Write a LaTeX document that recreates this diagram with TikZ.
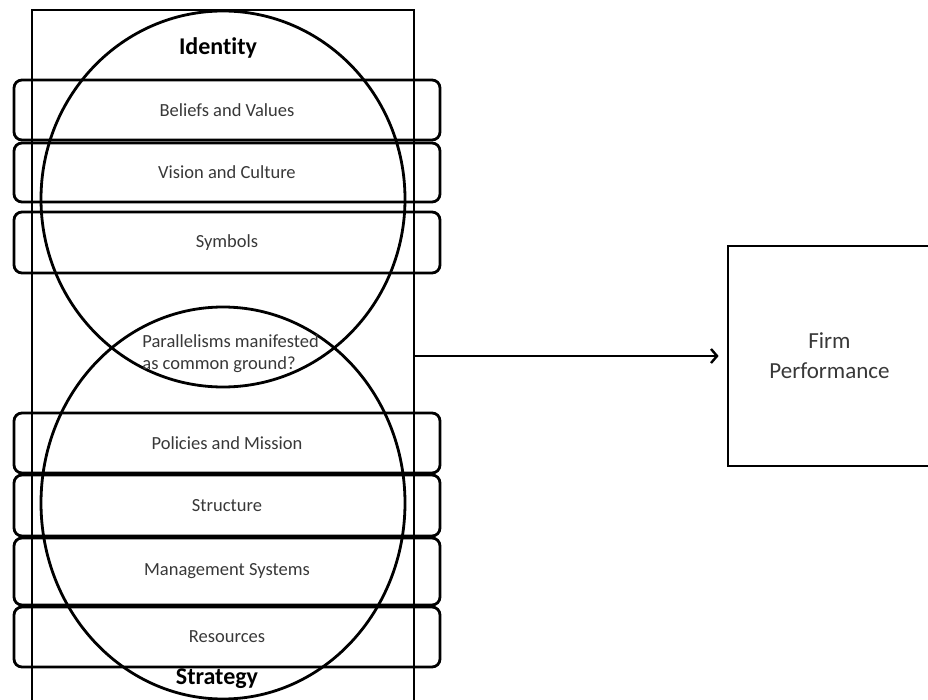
\documentclass[tikz,border=0pt]{standalone}
\usepackage{fontspec}
\setmainfont[Ligatures=NoCommon]{Carlito}
\usetikzlibrary{shapes.geometric,arrows.meta}

\begin{document}
\begin{tikzpicture}[x=1pt, y=-1pt, line width=2.8pt,
  layer/.style={draw, rounded corners=8pt, minimum width=426pt, inner sep=0pt, text=black!78, font=\fontsize{18.5}{22}\selectfont},
  circ/.style={draw, ellipse, minimum width=364pt, inner sep=0pt},
  heading/.style={font=\bfseries\fontsize{24}{28}\selectfont}]
\useasboundingbox (0,0) rectangle (928,700);
\node[draw, minimum width=382pt, minimum height=705pt, inner sep=0pt] (Frame) at (223,362.5) {};
\node[circ, minimum height=376pt] (C1) at (223,199) {};
\node[circ, minimum height=392pt] (C2) at (223,503) {};
\node[heading] (Ident) at (218,48) {Identity};
\node[heading] (Strat) at (217,679) {Strategy};
% identity layers
\node[layer, minimum height=60pt] (L1) at (227,110) {Beliefs and Values};
\node[layer, minimum height=59pt] (L2) at (227,172.5) {Vision and Culture};
\node[layer, minimum height=61pt] (L3) at (227,242.5) {Symbols};
% strategy layers
\node[layer, minimum height=60pt] (L4) at (227,443) {Policies and Mission};
\node[layer, minimum height=61pt] (L5) at (227,505.5) {Structure};
\node[layer, minimum height=67pt] (L6) at (227,571.5) {Management Systems};
\node[layer, minimum height=60pt] (L7) at (227,637) {Resources};
\node[anchor=west, align=left, inner sep=0pt, text=black!78, font=\fontsize{18.5}{22}\selectfont] (Common) at (141,354) {Parallelisms manifested\\as common ground?};
\node[draw, minimum width=203pt, minimum height=220pt, align=center, text=black!78, font=\fontsize{23}{30}\selectfont] (Perf) at (829.5,356) {Firm\\Performance};
\draw[line width=2.4pt, -{Straight Barb[length=6pt,width=14pt]}, shorten >=8pt] (Frame.east |- Perf.west) -- (Perf.west);
\end{tikzpicture}
\end{document}
